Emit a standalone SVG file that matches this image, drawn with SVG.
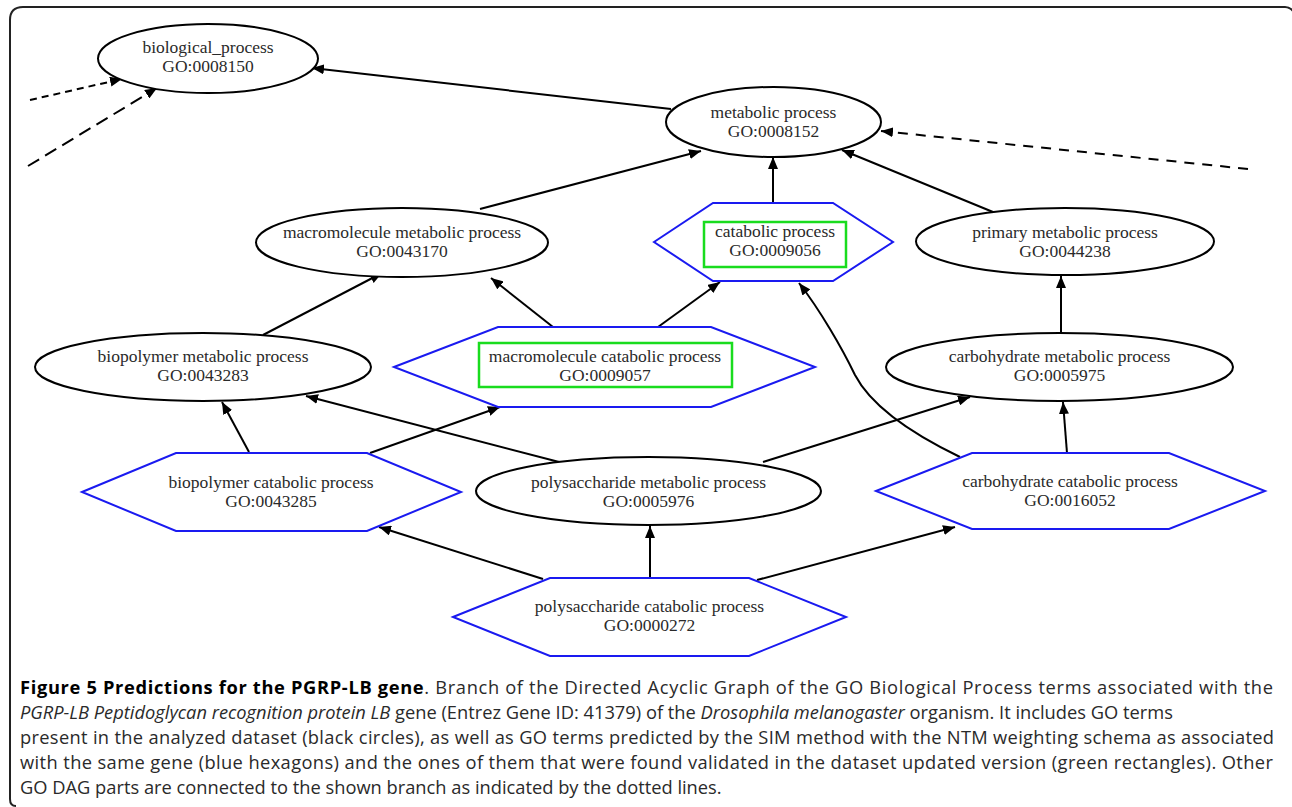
<svg xmlns="http://www.w3.org/2000/svg" width="1292" height="807" viewBox="0 0 1292 807">
<defs>
<marker id="arr" viewBox="0 0 12 10" refX="12" refY="5" markerWidth="12" markerHeight="10" markerUnits="userSpaceOnUse" orient="auto">
<path d="M0,0 L12,5 L0,10 Z" fill="#000"/>
</marker>
<style>
.ell{fill:#fff;stroke:#000;stroke-width:2}
.hex{fill:#fff;stroke:#1a1af0;stroke-width:2}
.grn{fill:none;stroke:#19dc1e;stroke-width:2.5}
.lbl{font-family:"Liberation Serif","Times New Roman",serif;font-size:17.5px;fill:#2a2a2a;text-anchor:middle}
.e{fill:none;stroke:#000;stroke-width:2;marker-end:url(#arr)}
.cap{font-family:"Open Sans","Noto Sans",sans-serif;font-size:18.3px;fill:#2a2a2a}
</style>
</defs>
<rect width="1292" height="807" fill="#fff"/>
<path d="M16,806 Q10,806 10,799 L10,20 Q10,7 23,7 L1285,7 Q1291,7 1294,13" fill="none" stroke="#222" stroke-width="2"/>

<g id="connectors">
<path class="e" d="M671,109 L312,68"/>
<path class="e" d="M30,100 L122,79" stroke-dasharray="7 5"/>
<path class="e" d="M28,166 L157,88" stroke-dasharray="13 7"/>
<path class="e" d="M480,209 L701,151"/>
<path class="e" d="M773,203 L773,157"/>
<path class="e" d="M993,212 L842,150"/>
<path class="e" d="M1248,169 L881,131" stroke-dasharray="10 8"/>
<path class="e" d="M263,335 L382,273"/>
<path class="e" d="M553,327 L491,278"/>
<path class="e" d="M658,327 L720,282"/>
<path class="e" d="M960,457 C900,428 868,400 855,375 C842,348 820,310 799,283"/>
<path class="e" d="M1061,333 L1061,276"/>
<path class="e" d="M1067,453 L1063,402"/>
<path class="e" d="M249,452 L222,402"/>
<path class="e" d="M370,453 L500,407"/>
<path class="e" d="M563,463 L306,396"/>
<path class="e" d="M763,462 L970,397"/>
<path class="e" d="M543,579 L379,527"/>
<path class="e" d="M650,578 L650,526"/>
<path class="e" d="M757,580 L955,527"/>
</g>

<g id="biological_process">
<ellipse class="ell" cx="208" cy="58.5" rx="110" ry="34.5"/>
<text class="lbl" x="208" y="53">biological_process</text>
<text class="lbl" x="208" y="72">GO:0008150</text>
</g>
<g id="metabolic_process">
<ellipse class="ell" cx="773.5" cy="122" rx="107.5" ry="35"/>
<text class="lbl" x="773.5" y="118">metabolic process</text>
<text class="lbl" x="773.5" y="137">GO:0008152</text>
</g>
<g id="macromolecule_metabolic_process">
<ellipse class="ell" cx="402" cy="242.5" rx="146" ry="34.5"/>
<text class="lbl" x="402" y="238">macromolecule metabolic process</text>
<text class="lbl" x="402" y="257">GO:0043170</text>
</g>
<g id="catabolic_process">
<polygon class="hex" points="654,242 713,203 833,203 893,242 833,281 713,281"/>
<rect class="grn" x="704" y="222" width="142" height="45"/>
<text class="lbl" x="775" y="237">catabolic process</text>
<text class="lbl" x="775" y="256">GO:0009056</text>
</g>
<g id="primary_metabolic_process">
<ellipse class="ell" cx="1065" cy="241.5" rx="149" ry="33.5"/>
<text class="lbl" x="1065" y="238">primary metabolic process</text>
<text class="lbl" x="1065" y="257">GO:0044238</text>
</g>
<g id="biopolymer_metabolic_process">
<ellipse class="ell" cx="203" cy="367" rx="168" ry="34"/>
<text class="lbl" x="203" y="362">biopolymer metabolic process</text>
<text class="lbl" x="203" y="381">GO:0043283</text>
</g>
<g id="macromolecule_catabolic_process">
<polygon class="hex" points="394,367 498,327 711,327 815,367 711,407 498,407"/>
<rect class="grn" x="479" y="343" width="253" height="44"/>
<text class="lbl" x="605" y="362">macromolecule catabolic process</text>
<text class="lbl" x="605" y="381">GO:0009057</text>
</g>
<g id="carbohydrate_metabolic_process">
<ellipse class="ell" cx="1059.5" cy="367" rx="173.5" ry="34"/>
<text class="lbl" x="1059.5" y="362">carbohydrate metabolic process</text>
<text class="lbl" x="1059.5" y="381">GO:0005975</text>
</g>
<g id="biopolymer_catabolic_process">
<polygon class="hex" points="82,492 176,453 367,453 461,492 367,531 176,531"/>
<text class="lbl" x="271" y="488">biopolymer catabolic process</text>
<text class="lbl" x="271" y="507">GO:0043285</text>
</g>
<g id="polysaccharide_metabolic_process">
<ellipse class="ell" cx="648.5" cy="491" rx="172.5" ry="34"/>
<text class="lbl" x="648.5" y="488">polysaccharide metabolic process</text>
<text class="lbl" x="648.5" y="507">GO:0005976</text>
</g>
<g id="carbohydrate_catabolic_process">
<polygon class="hex" points="876,491 972,453 1169,453 1265,491 1169,529 972,529"/>
<text class="lbl" x="1070" y="487">carbohydrate catabolic process</text>
<text class="lbl" x="1070" y="506">GO:0016052</text>
</g>
<g id="polysaccharide_catabolic_process">
<polygon class="hex" points="453,617 550,578 749,578 846,617 749,656 550,656"/>
<text class="lbl" x="649.5" y="612">polysaccharide catabolic process</text>
<text class="lbl" x="649.5" y="631">GO:0000272</text>
</g>

<g id="caption">
<text class="cap" x="20" y="694" textLength="1253" lengthAdjust="spacing"><tspan font-weight="bold" fill="#000">Figure 5 Predictions for the PGRP-LB gene</tspan>. Branch of the Directed Acyclic Graph of the GO Biological Process terms associated with the</text>
<text class="cap" x="20" y="719"><tspan font-style="italic">PGRP-LB Peptidoglycan recognition protein LB</tspan> gene (Entrez Gene ID: 41379) of the <tspan font-style="italic">Drosophila melanogaster</tspan> organism. It includes GO terms</text>
<text class="cap" x="20" y="744" textLength="1254" lengthAdjust="spacing">present in the analyzed dataset (black circles), as well as GO terms predicted by the SIM method with the NTM weighting schema as associated</text>
<text class="cap" x="20" y="769" textLength="1253" lengthAdjust="spacing">with the same gene (blue hexagons) and the ones of them that were found validated in the dataset updated version (green rectangles). Other</text>
<text class="cap" x="20" y="794">GO DAG parts are connected to the shown branch as indicated by the dotted lines.</text>
</g>
</svg>
